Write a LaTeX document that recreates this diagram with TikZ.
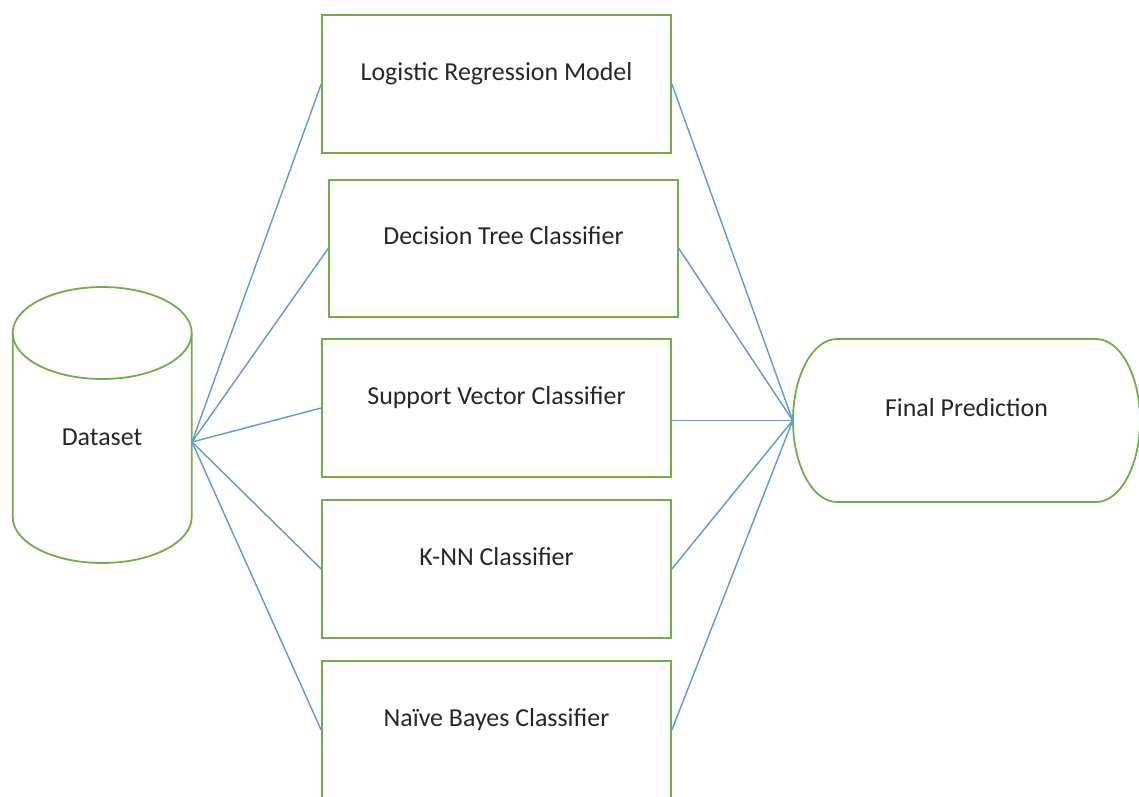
\documentclass[tikz,border=0pt]{standalone}
\usepackage{fontspec}
\setmainfont{Carlito}
\definecolor{boxgreen}{HTML}{70AD47}
\definecolor{linkblue}{HTML}{5B9BD5}
\definecolor{labelgray}{HTML}{262626}
\begin{document}
\begin{tikzpicture}[x=0.02cm, y=-0.02cm,
		greenline/.style={draw=boxgreen, line width=1pt},
		labeltext/.style={font=\fontsize{14.75}{17}\selectfont, text=labelgray},
		model/.style={greenline, labeltext, rectangle, minimum width=6.98cm, minimum height=2.76cm, inner sep=0pt, text height=0.75em, text depth=1.2em},
		result/.style={labeltext, rectangle, minimum width=6.94cm, minimum height=3.26cm, inner sep=0pt, text height=0.75em, text depth=1.2em},
		link/.style={draw=linkblue, line width=0.8pt}]
		\useasboundingbox ( 0, 0 ) rectangle ( 1139, 796 );
		\clip ( 0, 0 ) rectangle ( 1139, 796 );

		% набор данных
		\draw [greenline] ( 102.2, 333 ) ellipse [ x radius=89.5, y radius=46 ];
		\draw [greenline] ( 12.7, 333 ) -- ( 12.7, 517 ) arc [ start angle=180, end angle=0, x radius=89.5, y radius=46 ] -- ( 191.7, 333 );
		\node [labeltext] (dataset) at ( 102, 437 ) {Dataset};
		\coordinate (dsout) at ( 192, 442 );

		% модели
		\node [model] (lr) at ( 496.5, 84 ) {Logistic Regression Model};
		\node [model, minimum height=2.74cm] (dt) at ( 503.5, 248.5 ) {Decision Tree Classifier};
		\node [model] (sv) at ( 496.5, 408 ) {Support Vector Classifier};
		\node [model] (knn) at ( 496.5, 569 ) {K-NN Classifier};
		\node [model] (nb) at ( 496.5, 730 ) {Naïve Bayes Classifier};

		% итоговый прогноз
		\draw [greenline] ( 837, 339 ) -- ( 1096, 339 ) arc [ start angle=-90, end angle=90, x radius=44, y radius=81.5 ] -- ( 837, 502 ) arc [ start angle=90, end angle=270, x radius=44, y radius=81.5 ] -- cycle;
		\node [result] (fp) at ( 966.5, 420.5 ) {Final Prediction};

		% связи: данные -> модели
		\draw [link] (dsout) -- (lr.west);
		\draw [link] (dsout) -- (dt.west);
		\draw [link] (dsout) -- (sv.west);
		\draw [link] (dsout) -- (knn.west);
		\draw [link] (dsout) -- (nb.west);

		% связи: модели -> прогноз
		\draw [link] (lr.east) -- (fp.west);
		\draw [link] (dt.east) -- (fp.west);
		\draw [link] (sv.east |- fp.west) -- (fp.west);
		\draw [link] (knn.east) -- (fp.west);
		\draw [link] (nb.east) -- (fp.west);
\end{tikzpicture}
\end{document}
